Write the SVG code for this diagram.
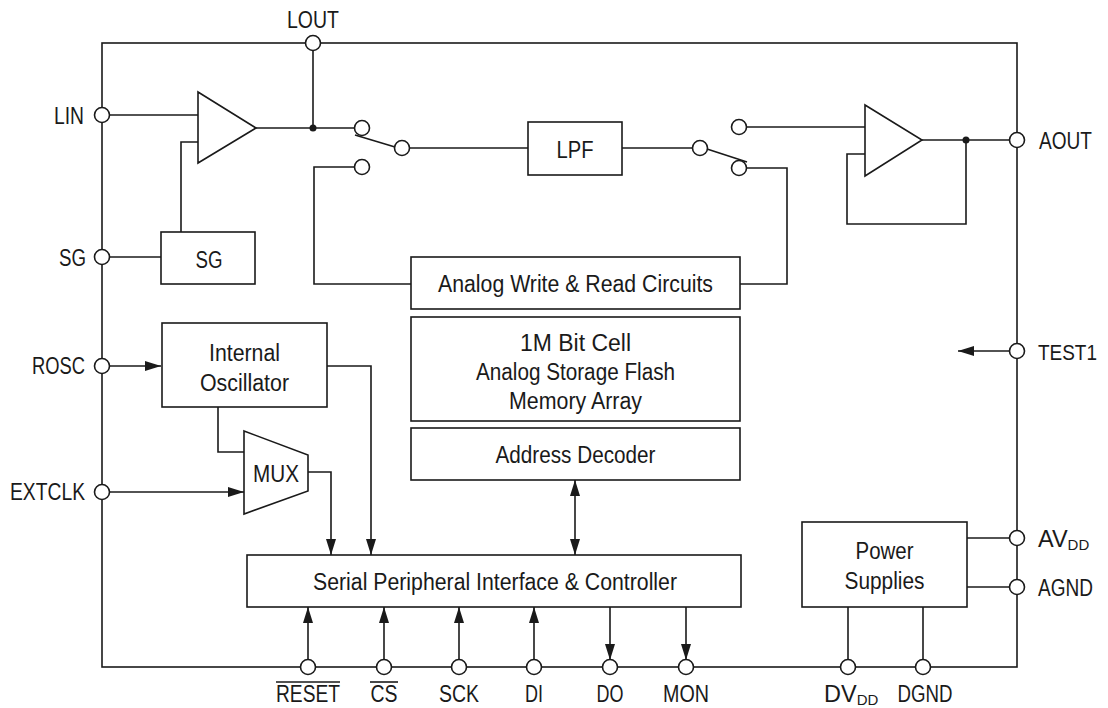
<svg xmlns="http://www.w3.org/2000/svg" width="1108" height="708" viewBox="0 0 1108 708">
<style>
.ln{fill:none;stroke:#1a1a1a;stroke-width:1.6}
.bx{fill:#fff;stroke:#1a1a1a;stroke-width:1.6}
.pin{fill:#fff;stroke:#1a1a1a;stroke-width:1.6}
text{font-family:"Liberation Sans",Arial,sans-serif;font-size:23.5px;fill:#1a1a1a}
.c{text-anchor:middle}
.e{text-anchor:end}
.sub{font-size:15px}
.sm{font-size:22px}
</style>
<defs>
<marker id="ah" viewBox="0 0 16 10" refX="16" refY="5" markerWidth="16" markerHeight="10" markerUnits="userSpaceOnUse" orient="auto-start-reverse">
<path d="M0,0 L16,5 L0,10 z" fill="#1a1a1a"/>
</marker>
</defs>
<rect width="1108" height="708" fill="#fff"/>

<g id="connectors">
<rect class="ln" x="102" y="43" width="915" height="624"/>
<path class="ln" d="M110,115 H198"/>
<path class="ln" d="M181,232 V142 H198"/>
<path class="ln" d="M110,257 H161"/>
<path class="ln" d="M256,128 H355"/>
<path class="ln" d="M313,50 V128"/>
<circle cx="313" cy="128" r="3.5" fill="#1a1a1a"/>
<path class="ln" d="M355,135 L395,147"/>
<path class="ln" d="M409,148 H528"/>
<path class="ln" d="M355,167 H314 V284 H411"/>
<path class="ln" d="M622,148 H693"/>
<path class="ln" d="M707,149 L747,162"/>
<path class="ln" d="M746,127 H865"/>
<path class="ln" d="M746,168 H787 V284 H740"/>
<path class="ln" d="M865,154 H847 V224 H966 V140"/>
<path class="ln" d="M922,140 H1009"/>
<circle cx="966" cy="140" r="3.5" fill="#1a1a1a"/>
<path class="ln" d="M1009,351 H958" marker-end="url(#ah)"/>
<path class="ln" d="M110,366 H161" marker-end="url(#ah)"/>
<path class="ln" d="M110,492 H244" marker-end="url(#ah)"/>
<path class="ln" d="M218,407 V452 H244"/>
<path class="ln" d="M327,366 H371 V555" marker-end="url(#ah)"/>
<path class="ln" d="M308,472 H331 V555" marker-end="url(#ah)"/>
<path class="ln" d="M575,480 V555" marker-start="url(#ah)" marker-end="url(#ah)"/>
<path class="ln" d="M308,660 V607" marker-end="url(#ah)"/>
<path class="ln" d="M384,660 V607" marker-end="url(#ah)"/>
<path class="ln" d="M459,660 V607" marker-end="url(#ah)"/>
<path class="ln" d="M534,660 V607" marker-end="url(#ah)"/>
<path class="ln" d="M610,607 V660" marker-end="url(#ah)"/>
<path class="ln" d="M686,607 V660" marker-end="url(#ah)"/>
<path class="ln" d="M848,607 V660"/>
<path class="ln" d="M923,607 V660"/>
<path class="ln" d="M967,538 H1009"/>
<path class="ln" d="M967,587 H1009"/>
</g>

<g id="amp-in">
<path class="bx" d="M198,92 L256,128 L198,163 Z"/>
</g>
<g id="amp-out">
<path class="bx" d="M865,105 L922,140 L865,176 Z"/>
</g>
<g id="switch-left">
<circle class="pin" cx="362" cy="128" r="7.5"/>
<circle class="pin" cx="402" cy="148" r="7.5"/>
<circle class="pin" cx="362" cy="167" r="7.5"/>
</g>
<g id="switch-right">
<circle class="pin" cx="700" cy="148" r="7.5"/>
<circle class="pin" cx="739" cy="127" r="7.5"/>
<circle class="pin" cx="739" cy="168" r="7.5"/>
</g>
<g id="sg">
<rect class="bx" x="161" y="232" width="94" height="52"/>
<text class="c" x="209" y="268" textLength="27" lengthAdjust="spacingAndGlyphs">SG</text>
</g>
<g id="lpf">
<rect class="bx" x="528" y="122" width="94" height="53"/>
<text class="c" x="575" y="158" textLength="37" lengthAdjust="spacingAndGlyphs">LPF</text>
</g>
<g id="analog-rw">
<rect class="bx" x="411" y="257" width="329" height="52"/>
<text class="c" x="575.5" y="292" textLength="275" lengthAdjust="spacingAndGlyphs">Analog Write &amp; Read Circuits</text>
</g>
<g id="memory">
<rect class="bx" x="411" y="317" width="329" height="104"/>
<text class="c" x="575.5" y="351" textLength="111" lengthAdjust="spacingAndGlyphs">1M Bit Cell</text>
<text class="c" x="575.5" y="380" textLength="199" lengthAdjust="spacingAndGlyphs">Analog Storage Flash</text>
<text class="c" x="575.5" y="409" textLength="133" lengthAdjust="spacingAndGlyphs">Memory Array</text>
</g>
<g id="address-decoder">
<rect class="bx" x="411" y="428" width="329" height="52"/>
<text class="c" x="575.5" y="463" textLength="160" lengthAdjust="spacingAndGlyphs">Address Decoder</text>
</g>
<g id="oscillator">
<rect class="bx" x="162" y="323" width="165" height="84"/>
<text class="c" x="244.5" y="361" textLength="71" lengthAdjust="spacingAndGlyphs">Internal</text>
<text class="c" x="244.5" y="391" textLength="89" lengthAdjust="spacingAndGlyphs">Oscillator</text>
</g>
<g id="mux">
<path class="bx" d="M244,431 L308,455 L308,491 L244,514 Z"/>
<text class="c" x="276" y="482" textLength="46" lengthAdjust="spacingAndGlyphs">MUX</text>
</g>
<g id="spi">
<rect class="bx" x="247" y="555" width="494" height="52"/>
<text class="c" x="495" y="590" textLength="364" lengthAdjust="spacingAndGlyphs">Serial Peripheral Interface &amp; Controller</text>
</g>
<g id="power">
<rect class="bx" x="802" y="522" width="165" height="85"/>
<text class="c" x="884.5" y="559" textLength="58" lengthAdjust="spacingAndGlyphs">Power</text>
<text class="c" x="884.5" y="589" textLength="80" lengthAdjust="spacingAndGlyphs">Supplies</text>
</g>

<g id="pin-lout">
<circle class="pin" cx="313" cy="43" r="7.5"/>
<text class="c" x="313" y="28" textLength="52" lengthAdjust="spacingAndGlyphs">LOUT</text>
</g>
<g id="pin-lin">
<circle class="pin" cx="102" cy="115" r="7.5"/>
<text class="e" x="84" y="124" textLength="30" lengthAdjust="spacingAndGlyphs">LIN</text>
</g>
<g id="pin-sg">
<circle class="pin" cx="102" cy="257" r="7.5"/>
<text class="e" x="86" y="266" textLength="27" lengthAdjust="spacingAndGlyphs">SG</text>
</g>
<g id="pin-rosc">
<circle class="pin" cx="102" cy="366" r="7.5"/>
<text class="e" x="85" y="374" textLength="53" lengthAdjust="spacingAndGlyphs">ROSC</text>
</g>
<g id="pin-extclk">
<circle class="pin" cx="102" cy="492" r="7.5"/>
<text class="e" x="85" y="500" textLength="75" lengthAdjust="spacingAndGlyphs">EXTCLK</text>
</g>
<g id="pin-aout">
<circle class="pin" cx="1017" cy="140" r="7.5"/>
<text x="1039" y="149" textLength="53" lengthAdjust="spacingAndGlyphs">AOUT</text>
</g>
<g id="pin-test1">
<circle class="pin" cx="1017" cy="351" r="7.5"/>
<text class="sm" x="1038" y="360" textLength="59" lengthAdjust="spacingAndGlyphs">TEST1</text>
</g>
<g id="pin-avdd">
<circle class="pin" cx="1017" cy="538" r="7.5"/>
<text x="1038" y="547">AV<tspan class="sub" dy="3">DD</tspan></text>
</g>
<g id="pin-agnd">
<circle class="pin" cx="1017" cy="587" r="7.5"/>
<text x="1038" y="596" textLength="55" lengthAdjust="spacingAndGlyphs">AGND</text>
</g>
<g id="pin-reset">
<circle class="pin" cx="308" cy="667" r="7.5"/>
<text class="c" x="308" y="702" textLength="64" lengthAdjust="spacingAndGlyphs">RESET</text>
<path class="ln" d="M276,682 H340"/>
</g>
<g id="pin-cs">
<circle class="pin" cx="384" cy="667" r="7.5"/>
<text class="c" x="384" y="702" textLength="27" lengthAdjust="spacingAndGlyphs">CS</text>
<path class="ln" d="M370,682 H398"/>
</g>
<g id="pin-sck">
<circle class="pin" cx="459" cy="667" r="7.5"/>
<text class="c" x="459" y="702" textLength="40" lengthAdjust="spacingAndGlyphs">SCK</text>
</g>
<g id="pin-di">
<circle class="pin" cx="534" cy="667" r="7.5"/>
<text class="c" x="534" y="702" textLength="18" lengthAdjust="spacingAndGlyphs">DI</text>
</g>
<g id="pin-do">
<circle class="pin" cx="610" cy="667" r="7.5"/>
<text class="c" x="610" y="702" textLength="27" lengthAdjust="spacingAndGlyphs">DO</text>
</g>
<g id="pin-mon">
<circle class="pin" cx="686" cy="667" r="7.5"/>
<text class="c" x="686" y="702" textLength="46" lengthAdjust="spacingAndGlyphs">MON</text>
</g>
<g id="pin-dvdd">
<circle class="pin" cx="848" cy="667" r="7.5"/>
<text x="824" y="702">DV<tspan class="sub" dy="3">DD</tspan></text>
</g>
<g id="pin-dgnd">
<circle class="pin" cx="923" cy="667" r="7.5"/>
<text class="c" x="925" y="702" textLength="55" lengthAdjust="spacingAndGlyphs">DGND</text>
</g>
</svg>
